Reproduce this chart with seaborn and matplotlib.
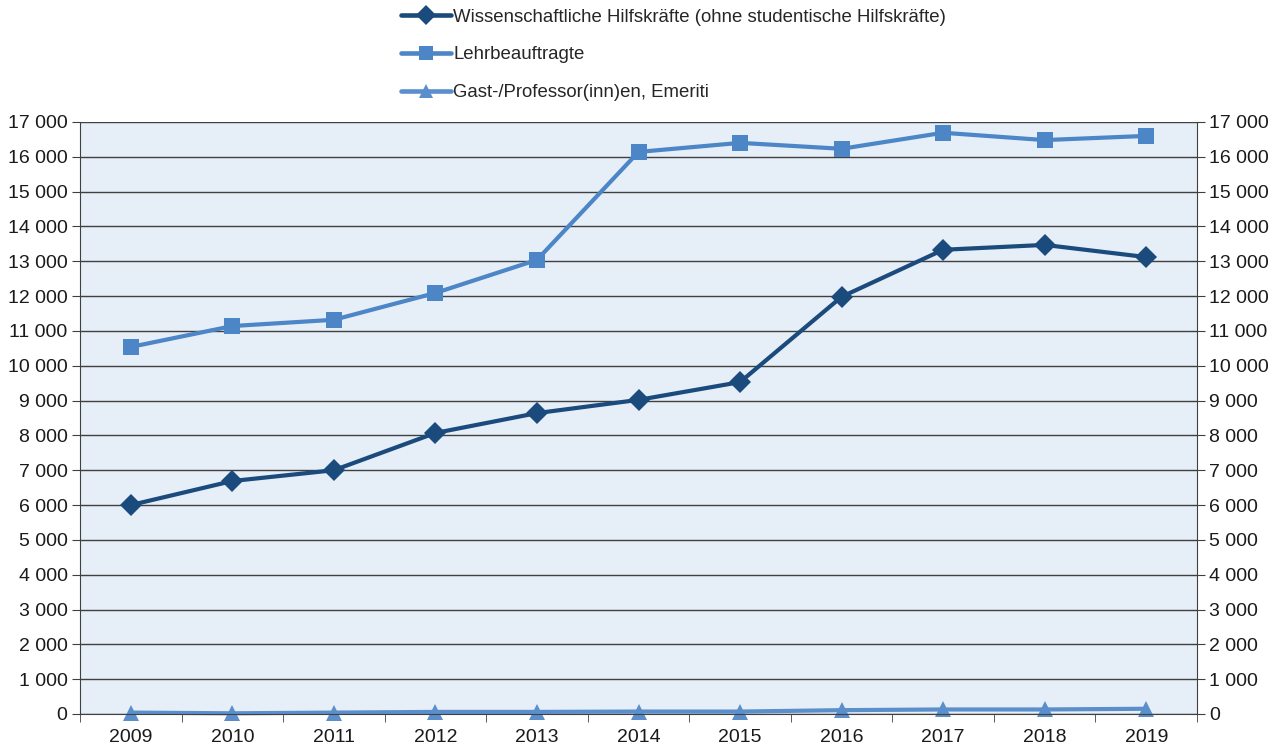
import numpy as np
import pandas as pd
import matplotlib.pyplot as plt
import seaborn as sns

# Data
years = ['2009', '2010', '2011', '2012', '2013', '2014', '2015', '2016', '2017', '2018', '2019']
wiss_hilfskraefte = [6000, 6690, 7000, 8070, 8640, 9020, 9530, 11980, 13330, 13470, 13120]
lehrbeauftragte = [10540, 11140, 11320, 12090, 13040, 16140, 16400, 16230, 16690, 16480, 16600]
gast_professoren = [40, 20, 40, 60, 60, 70, 70, 110, 130, 130, 150]

series_names = ['Wissenschaftliche Hilfskräfte (ohne studentische Hilfskräfte)',
                'Lehrbeauftragte',
                'Gast-/Professor(inn)en, Emeriti']

df = pd.DataFrame({
    'Jahr': years * 3,
    'Anzahl': wiss_hilfskraefte + lehrbeauftragte + gast_professoren,
    'Gruppe': [series_names[0]] * 11 + [series_names[1]] * 11 + [series_names[2]] * 11,
})

sns.set_style("ticks")
plt.rcParams['font.family'] = ['Liberation Sans', 'DejaVu Sans']

fig = plt.figure(figsize=(12.85, 7.46), dpi=100)
ax = fig.add_axes([0.0623, 0.0429, 0.8692, 0.7936])

colors = ['#1b4a7d', '#4c86c6', '#5a8fcc']
markers = ['D', 's', '^']
sns.lineplot(data=df, x='Jahr', y='Anzahl', hue='Gruppe', style='Gruppe',
             palette=colors, markers=markers, dashes=False, linewidth=3.0,
             markersize=11, markeredgewidth=0, ax=ax, sort=False)
for ln in ax.get_lines():
    ln.set_clip_on(False)

ax.set_facecolor('#e6eef8')
ax.set_xlim(-0.5, len(years) - 0.5)
ax.set_ylim(0, 17000)
yt = np.arange(0, 17001, 1000)
ax.set_yticks(yt)
ax.set_yticklabels([f'{v:,}'.replace(',', ' ') for v in yt])
ax.yaxis.grid(True, color='#404040', linewidth=1.0)
ax.set_axisbelow(True)
ax.set_xlabel('')
ax.set_ylabel('')

# ticks between categories
ax.set_xticks(np.arange(len(years)))
ax.set_xticklabels(years)
ax.set_xticks(np.arange(-0.5, len(years), 1), minor=True)
ax.tick_params(axis='x', which='major', length=0, labelsize=14, pad=11, labelcolor='#1a1a1a')
ax.tick_params(axis='x', which='minor', length=6, color='#404040')
ax.tick_params(axis='y', length=6, color='#404040', labelsize=14, labelcolor='#1a1a1a', pad=3)
for s in ['left', 'right', 'bottom']:
    ax.spines[s].set_color('#404040')
ax.spines['top'].set_visible(False)

# right axis duplicate
ax2 = ax.twinx()
ax2.set_ylim(0, 17000)
ax2.set_yticks(yt)
ax2.set_yticklabels([f'{v:,}'.replace(',', ' ') for v in yt])
ax2.tick_params(axis='y', length=6, color='#404040', labelsize=14, labelcolor='#1a1a1a', pad=3)
for s in ['left', 'right', 'bottom', 'top']:
    ax2.spines[s].set_visible(False)
ax2.grid(False)
ax.set_zorder(ax2.get_zorder() + 1)
ax.patch.set_visible(True)

handles, labels = ax.get_legend_handles_labels()
for h in handles:
    h.set_markersize(10)
    h.set_linewidth(3.3)
ax.get_legend().remove()
fig.legend(handles, labels, loc='upper left', bbox_to_anchor=(0.302, 1.006),
           frameon=False, fontsize=13.4, labelspacing=1.12, handlelength=2.7,
           handletextpad=0.1, borderaxespad=0.3)

fig.savefig('out.png', dpi=100)
